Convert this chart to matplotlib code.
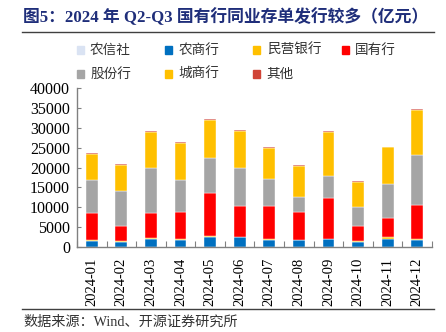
import numpy as np
import matplotlib
matplotlib.use("Agg")
import matplotlib.pyplot as plt
from matplotlib.patches import Rectangle

plt.rcParams['font.family'] = ['Liberation Serif', 'Noto Sans CJK SC', 'DejaVu Sans']

# 2024 monthly issuance by issuer type (100 million yuan)
months = ['2024-01', '2024-02', '2024-03', '2024-04', '2024-05', '2024-06',
          '2024-07', '2024-08', '2024-09', '2024-10', '2024-11', '2024-12']
nongxinshe = [30, 20, 40, 30, 40, 40, 30, 30, 30, 20, 30, 40]
nongshang = [1520, 1270, 1950, 1780, 2290, 2290, 1750, 1580, 1860, 1270, 2030, 1600]
minying = [100, 160, 250, 250, 250, 170, 150, 60, 100, 100, 400, 250]
guoyou = [6850, 3900, 6190, 6610, 11010, 7870, 8400, 7200, 10240, 3880, 4830, 8640]
gufen = [8470, 8640, 11510, 8050, 8810, 9410, 6690, 3640, 5500, 4830, 8470, 12540]
chengshang = [6350, 6770, 9070, 9400, 9570, 9400, 7880, 7880, 11350, 6270, 9460, 11430]
qita = [250, 250, 330, 250, 260, 250, 170, 170, 250, 170, 50, 340]

series = [
    ('农信社', nongxinshe, '#DAE3F3'),
    ('农商行', nongshang, '#0070C0'),
    ('民营银行', minying, '#FFC000'),
    ('国有行', guoyou, '#FF0000'),
    ('股份行', gufen, '#A5A5A5'),
    ('城商行', chengshang, '#FFC000'),
    ('其他', qita, '#D04437'),
]
legend_order = ['农信社', '农商行', '民营银行', '国有行', '股份行', '城商行', '其他']

fig = plt.figure(figsize=(4.46, 3.32), dpi=100)
ax = fig.add_axes([0.1726, 0.2569, 0.7960, 0.4771])

x = np.arange(len(months))
bottom = np.zeros(len(months))
for name, vals, color in series:
    ax.bar(x, vals, width=0.4, bottom=bottom, color=color,
           edgecolor='white', linewidth=0.3)
    bottom += np.array(vals)

ax.set_xlim(-0.5, len(months) - 0.5)
ax.set_ylim(0, 40000)
ax.set_yticks(np.arange(0, 40001, 5000))
ax.tick_params(axis='y', direction='in', length=3, labelsize=11.5, color='#808080', pad=5)

# labels at bar centres, tick marks between categories
ax.set_xticks(np.arange(-0.5, len(months)), minor=False)
ax.set_xticklabels([])
ax.set_xticks(x, minor=True)
ax.set_xticklabels(months, minor=True, rotation=90, fontsize=10.5)
ax.tick_params(axis='x', which='major', direction='in', length=4, color='#808080')
ax.tick_params(axis='x', which='minor', length=0, pad=8)

for side in ['top', 'right']:
    ax.spines[side].set_visible(False)
for side in ['left', 'bottom']:
    ax.spines[side].set_color('#808080')
    ax.spines[side].set_linewidth(1.0)

# title, rules and source note
fig.text(0.052, 0.948, '图5：2024 年 Q2-Q3 国有行同业存单发行较多（亿元）',
         fontsize=12.1, fontweight='bold', color='#1F2E7A', va='center', ha='left')
fig.add_artist(plt.Line2D([0.049, 0.972], [0.903, 0.903], color='#404040', lw=1.0))
fig.add_artist(plt.Line2D([0.049, 0.972], [0.068, 0.068], color='#404040', lw=1.0))
fig.text(0.052, 0.030, '数据来源：Wind、开源证券研究所', fontsize=10.2, color='#333333',
         va='center', ha='left')

# legend, four columns
colors = {name: color for name, _, color in series}
for i, name in enumerate(legend_order):
    col, row = i % 4, i // 4
    lx = 0.180 + col * 0.198
    ly = 0.849 - row * 0.072
    fig.add_artist(Rectangle((lx - 0.008, ly - 0.011), 0.016, 0.022,
                             transform=fig.transFigure, color=colors[name]))
    fig.text(lx + 0.022, ly, name, fontsize=9.8, color='#333333', va='center', ha='left')

fig.savefig('out.png', dpi=100)
